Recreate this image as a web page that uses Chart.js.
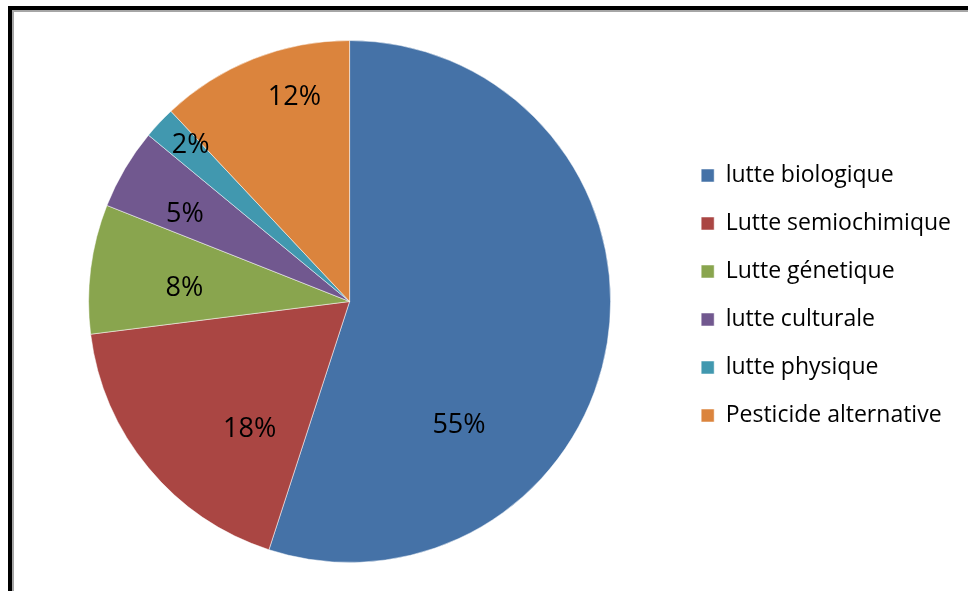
<!DOCTYPE html>
<html>
<head>
<meta charset="utf-8">
<script src="https://cdn.jsdelivr.net/npm/chart.js@4.4.1/dist/chart.umd.min.js"></script>
<style>
  html, body { margin: 0; padding: 0; background: #fff; overflow: hidden; }
  #frame {
    position: absolute; left: 8px; top: 6px; width: 1000px; height: 640px;
    border: 4px solid #000; box-shadow: inset 2px 2px 0 #a6a6a6;
  }
  #wrap { position: absolute; left: 0; top: 0; width: 968px; height: 591px; }
</style>
</head>
<body>
<div id="frame"></div>
<div id="wrap"><canvas id="pie" width="968" height="591"></canvas></div>
<script>
// methods of control and their share (%)
const categories = [
  "lutte biologique",
  "Lutte semiochimique",
  "Lutte génetique",
  "lutte culturale",
  "lutte physique",
  "Pesticide alternative",
];
const shares = [55, 18, 8, 5, 2, 12];
const sliceColors = ["#4572A7", "#AA4643", "#89A54E", "#71588F", "#4198AF", "#DB843D"];
// where each percent label sits: distance out (fraction of radius)
// and position across its slice (0 = start edge, 1 = end edge)
const labelRadius = [0.634, 0.621, 0.635, 0.714, 0.853, 0.811];
const labelSpan = [0.70, 0.31, 0.41, 0.35, 0.67, 0.65];

const fontFamily = "'Open Sans', sans-serif";

// writes "xx%" inside each slice
const sliceLabels = {
  id: "sliceLabels",
  afterDatasetsDraw(chart) {
    const ctx = chart.ctx;
    const meta = chart.getDatasetMeta(0);
    ctx.save();
    ctx.font = "27px " + fontFamily;
    ctx.fillStyle = "#000";
    ctx.textAlign = "center";
    ctx.textBaseline = "middle";
    meta.data.forEach((arc, i) => {
      const a = arc.startAngle + (arc.endAngle - arc.startAngle) * labelSpan[i];
      const r = arc.outerRadius * labelRadius[i];
      ctx.fillText(shares[i] + "%", arc.x + Math.cos(a) * r, arc.y + Math.sin(a) * r);
    });
    ctx.restore();
  },
};

// nudge the legend block up a little
const legendShift = {
  id: "legendShift",
  afterLayout(chart) {
    chart.legend.top -= 6;
    chart.legend.bottom -= 6;
  },
};

const ctx = document.getElementById("pie").getContext("2d");
const myChart = new Chart(ctx, {
  type: "pie",
  data: {
    labels: categories,
    datasets: [
      {
        data: shares,
        backgroundColor: sliceColors,
        borderColor: "rgba(255,255,255,0.5)",
        borderWidth: 1,
      },
    ],
  },
  options: {
    responsive: false,
    animation: false,
    layout: { padding: { left: 23, top: 40, bottom: 28, right: 7 } },
    plugins: {
      tooltip: { enabled: false },
      legend: {
        position: "right",
        labels: {
          boxWidth: 13,
          boxHeight: 13,
          padding: 25,
          color: "#000",
          font: { family: fontFamily, size: 23 },
        },
      },
    },
  },
  plugins: [sliceLabels, legendShift],
});
</script>
</body>
</html>
